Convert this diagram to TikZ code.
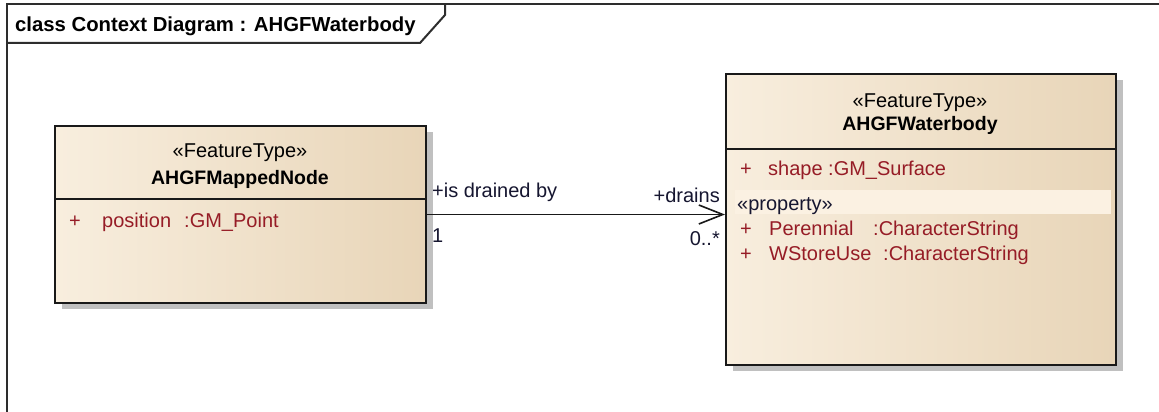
\documentclass[tikz,border=0pt]{standalone}
\usepackage{fontspec}
\setmainfont{Liberation Sans}
\usetikzlibrary{arrows.meta,shadows}
\definecolor{frameline}{RGB}{45,45,45}
\definecolor{boxline}{RGB}{25,25,25}
\definecolor{attrred}{RGB}{150,28,38}
\definecolor{labelink}{RGB}{22,22,48}
\definecolor{fillleft}{RGB}{248,238,222}
\definecolor{fillmid}{RGB}{251,242,230}
\definecolor{fillright}{RGB}{232,213,184}
\definecolor{shadowgray}{RGB}{192,192,192}
\definecolor{bandfill}{RGB}{251,241,226}
\tikzset{
  txt/.style={inner sep=0pt, font=\fontsize{20}{24}\selectfont},
  boldtxt/.style={txt, font=\fontsize{19.5}{24}\selectfont\bfseries},
  attr/.style={txt, text=attrred, anchor=base west},
  conlabel/.style={txt, text=labelink},
  classbox/.style={draw=boxline, line width=2pt, inner sep=0pt, anchor=north west,
    left color=fillleft, middle color=fillmid, right color=fillright,
    general shadow={fill=shadowgray, shadow xshift=7pt, shadow yshift=-6pt}},
}
\begin{document}
\begin{tikzpicture}[x=1pt, y=-1pt]
\useasboundingbox (0,0) rectangle (1159,412);
\fill[white] (0,0) rectangle (1159,412);

% diagram frame and its name tab
\draw[frameline, line width=2pt] (7,412) -- (7,4) -- (1159,4);
\draw[frameline, line width=2pt] (7,43) -- (420,43) -- (445,15) -- (445,4);
\node[boldtxt, font=\fontsize{20.3}{24}\selectfont\bfseries, text=black, anchor=base west] (title) at (15,32) {class Context Diagram : AHGFWaterbody};

% class AHGFMappedNode
\node[classbox, minimum width=371pt, minimum height=177pt] (mapped) at (54,125) {};
\draw[boxline, line width=2pt] (54,199) -- (425,199);
\node[txt, anchor=base] (mappedst) at (240,157) {«FeatureType»};
\node[boldtxt, anchor=base] (mappedname) at (240,184) {AHGFMappedNode};
\node[attr] (mappedvis) at (69,227) {+};
\node[attr] (mappedattr) at (102,227) {position};
\node[attr] (mappedtype) at (184,227) {:GM\_Point};

% class AHGFWaterbody
\node[classbox, minimum width=390pt, minimum height=291pt] (water) at (725,73) {};
\draw[boxline, line width=2pt] (725,149) -- (1115,149);
\node[txt, anchor=base] (waterst) at (920,107) {«FeatureType»};
\node[boldtxt, anchor=base] (watername) at (920,130) {AHGFWaterbody};
\node[attr] (shapevis) at (740,175) {+};
\node[attr] (shapeattr) at (768,175) {shape};
\node[attr] (shapetype) at (828,175) {:GM\_Surface};
\fill[bandfill] (735,190) rectangle (1111,214);
\node[txt, text=labelink, anchor=base west] (propst) at (737,210) {«property»};
\node[attr] (perenvis) at (740,235) {+};
\node[attr] (perenattr) at (769,235) {Perennial};
\node[attr] (perentype) at (873,235) {:CharacterString};
\node[attr] (storevis) at (740,260) {+};
\node[attr] (storeattr) at (769,260) {WStoreUse};
\node[attr] (storetype) at (883,260) {:CharacterString};

% association
\draw[boxline, line width=1.6pt, -{Straight Barb[length=24pt, width=19pt, line width=1.6pt]}]
  (mapped.east) -- (mapped.east -| water.west);
\node[conlabel, anchor=base west] (srcrole) at (432,197) {+is drained by};
\node[conlabel, anchor=base west] (srcmult) at (432,242) {1};
\node[conlabel, anchor=base east] (dstrole) at (720,202) {+drains};
\node[conlabel, anchor=base east] (dstmult) at (720,245) {0..*};
\end{tikzpicture}
\end{document}
